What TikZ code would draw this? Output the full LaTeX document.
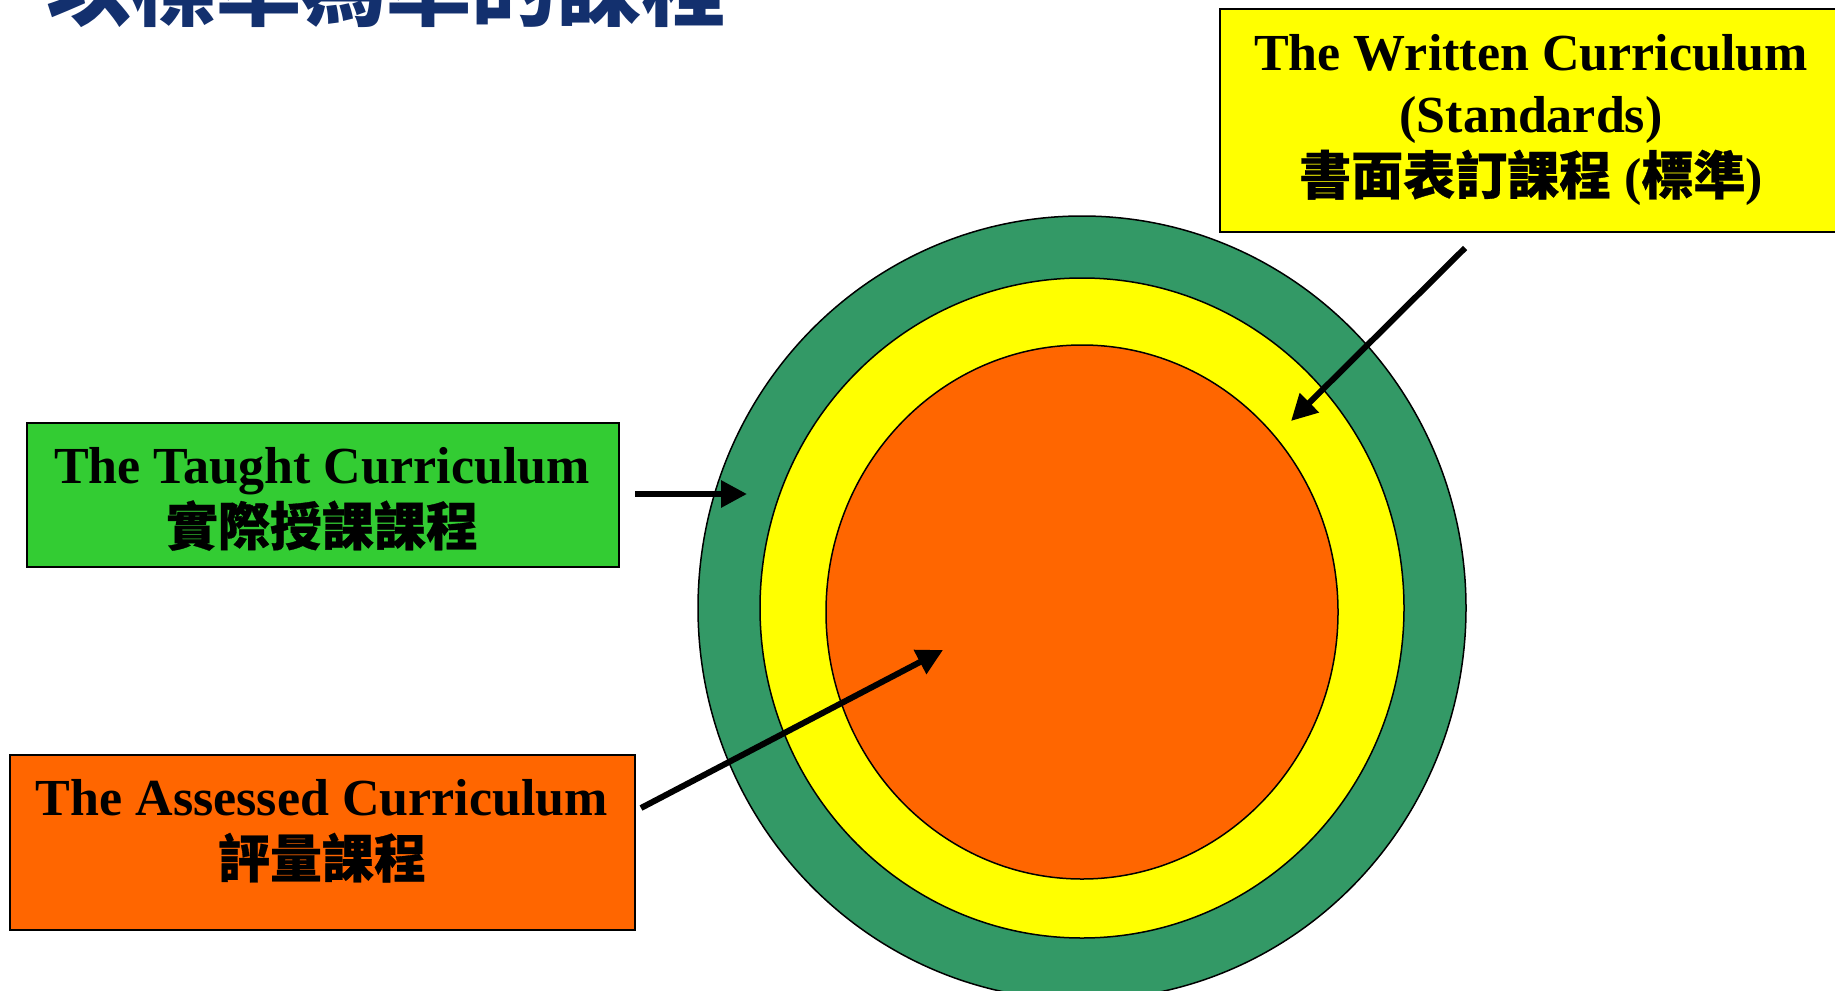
\documentclass[tikz,border=0pt]{standalone}
\usepackage{fontspec}
\setmainfont{Liberation Serif}
\newfontfamily\cjk{Noto Sans CJK TC}
\newfontfamily\cjkm{Noto Sans CJK TC}[FakeBold=0.6]
\usetikzlibrary{arrows.meta}
\definecolor{ringgreen}{HTML}{339966}
\definecolor{ringyellow}{HTML}{FFFF00}
\definecolor{coreorange}{HTML}{FF6600}
\definecolor{boxgreen}{HTML}{33CC33}
\definecolor{titleblue}{HTML}{13306E}
\begin{document}
\begin{tikzpicture}[x=1pt,y=-1pt,
  ring/.style={draw=black,line width=1.5pt},
  labelbox/.style={draw=black,line width=2pt,inner sep=0pt},
  labeltext/.style={align=center,font=\bfseries\fontsize{52}{62}\selectfont,inner sep=0pt},
  pointer/.style={line width=6pt,-{Triangle[length=26pt,width=26pt]}},
]
\path[use as bounding box,clip] (0,0) rectangle (1835,990);
\fill[white] (0,0) rectangle (1835,990);

% title (cut at top)
\node[anchor=base west,inner sep=0pt,text=titleblue,font=\cjk\bfseries\fontsize{85}{85}\selectfont] (title) at (46,20) {以標準為準的課程};

% rings
\draw[ring,fill=ringgreen] (1082,608) ellipse [x radius=384,y radius=392];
\draw[ring,fill=ringyellow] (1082,608) ellipse [x radius=322,y radius=330];
\draw[ring,fill=coreorange] (1082,612) ellipse [x radius=256,y radius=267];

% boxes
\node[labelbox,fill=ringyellow,minimum width=630pt,minimum height=223pt,anchor=north west] (written) at (1219,8) {};
\node[labelbox,fill=boxgreen,minimum width=592pt,minimum height=144pt,anchor=north west] (taught) at (26,422) {};
\node[labelbox,fill=coreorange,minimum width=625pt,minimum height=175pt,anchor=north west] (assessed) at (9,754) {};

\node[labeltext] (writtentext) at (1531,120) {The Written Curriculum\\(Standards)\\{\cjkm 書面表訂課程} ({\cjkm 標準})};
\node[labeltext] (taughttext) at (322,499) {The Taught Curriculum\\{\cjkm 實際授課課程}};
\node[labeltext] (assessedtext) at (322,831) {The Assessed Curriculum\\{\cjkm 評量課程}};

% pointers
\coordinate (wstart) at (1465,248);
\coordinate (wend) at (1291,421);
\coordinate (tstart) at (635,494);
\coordinate (tend) at (747,494);
\coordinate (astart) at (641,808);
\coordinate (aend) at (943,650);
\draw[pointer] (wstart) -- (wend);
\draw[pointer] (tstart) -- (tend);
\draw[pointer] (astart) -- (aend);
\end{tikzpicture}
\end{document}
